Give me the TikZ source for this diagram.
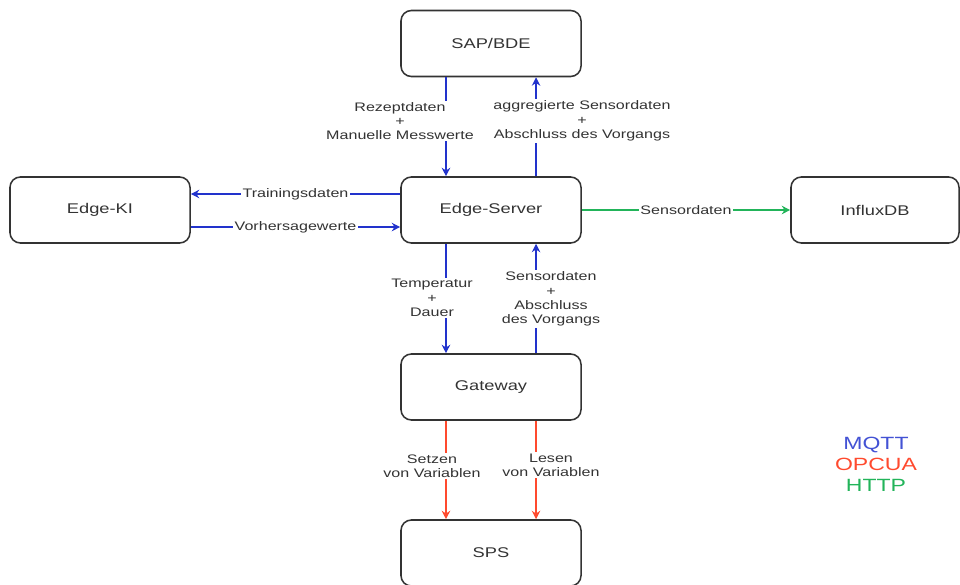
\documentclass[tikz,border=0pt]{standalone}
\usepackage{fontspec}
\setmainfont{Liberation Sans}[FakeStretch=1.3]
\usepackage{tikz}
\usetikzlibrary{positioning,arrows.meta}
\definecolor{MQTTBlue}{HTML}{2233CC}
\definecolor{OPCRed}{HTML}{FF4A2E}
\definecolor{HTTPGreen}{HTML}{22B45A}
\definecolor{BoxLine}{HTML}{333333}
\definecolor{TxtGray}{HTML}{333333}

\tikzset{
  sysbox/.style={draw=BoxLine,line width=1.1pt,rounded corners=0.26cm,fill=white,
    minimum width=4.5cm,minimum height=1.65cm,text=TxtGray,
    font=\fontsize{10}{12}\selectfont},
  flowlbl/.style={fill=white,inner sep=1pt,align=center,text=TxtGray,
    font=\fontsize{8.8}{10.2}\selectfont},
  mqtt/.style={->,MQTTBlue,line width=0.9pt},
  opcua/.style={->,OPCRed,line width=0.9pt},
  http/.style={->,HTTPGreen,line width=0.9pt},
}

\begin{document}
\begin{tikzpicture}[x=0.025cm,y=-0.025cm,>={Stealth[length=6pt,width=6pt]}]
    \useasboundingbox (0,0) rectangle (960,585);
    \node[sysbox] (sap) at (491,43.5) {SAP/BDE};
    \node[sysbox] (ki) at (100,210) {Edge-KI};
    \node[sysbox] (server) at (491,210) {Edge-Server};
    \node[sysbox,minimum width=4.2cm] (influx) at (875,210) {InfluxDB};
    \node[sysbox] (gateway) at (491,387) {Gateway};
    \node[sysbox] (sps) at (491,553) {SPS};

    \draw[mqtt] ([xshift=-1.125cm]sap.south) -- ([xshift=-1.125cm]server.north);
    \draw[mqtt] ([xshift=1.125cm]server.north) -- ([xshift=1.125cm]sap.south);
    \draw[mqtt] ([yshift=0.4cm]server.west) -- node[flowlbl] {Trainingsdaten} ([yshift=0.4cm]ki.east);
    \draw[mqtt] ([yshift=-0.425cm]ki.east) -- node[flowlbl] {Vorhersagewerte} ([yshift=-0.425cm]server.west);
    \draw[http] (server.east) -- node[flowlbl] {Sensordaten} (influx.west);
    \draw[mqtt] ([xshift=-1.125cm]server.south) -- ([xshift=-1.125cm]gateway.north);
    \draw[mqtt] ([xshift=1.125cm]gateway.north) -- ([xshift=1.125cm]server.south);
    \draw[opcua] ([xshift=-1.125cm]gateway.south) -- ([xshift=-1.125cm]sps.north);
    \draw[opcua] ([xshift=1.125cm]gateway.south) -- ([xshift=1.125cm]sps.north);

    \node[flowlbl] (lrezept) at (400,121) {Rezeptdaten\\+\\Manuelle Messwerte};
    \node[flowlbl] (laggr) at (582,121) {aggregierte Sensordaten\\+\\Abschluss des Vorgangs};
    \node[flowlbl] (ltemp) at (432,298) {Temperatur\\+\\Dauer};
    \node[flowlbl] (lsens) at (551,299) {Sensordaten\\+\\Abschluss\\des Vorgangs};
    \node[flowlbl] (lsetzen) at (432,466) {Setzen\\von Variablen};
    \node[flowlbl] (llesen) at (551,465) {Lesen\\von Variablen};

    \node[font=\fontsize{12.6}{15}\selectfont,align=center] (legend) at (876,464)
      {\textcolor{MQTTBlue!85!white}{MQTT}\\\textcolor{OPCRed}{OPCUA}\\\textcolor{HTTPGreen}{HTTP}};
  \end{tikzpicture}
\end{document}
